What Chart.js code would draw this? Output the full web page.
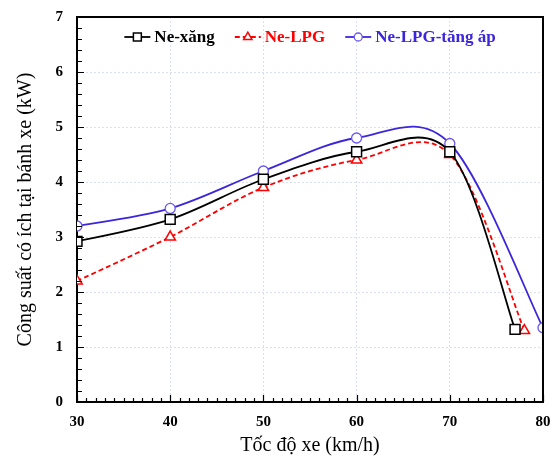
<!DOCTYPE html>
<html>
<head>
<meta charset="utf-8">
<script src="https://cdn.jsdelivr.net/npm/chart.js@4.4.1/dist/chart.umd.min.js"></script>
<style>
  html, body { margin: 0; padding: 0; background: #ffffff; }
  #wrap { width: 557px; height: 459px; }
</style>
</head>
<body>
<div id="wrap"><canvas id="c" width="557" height="459"></canvas></div>
<script>
// Vehicle speed (km/h) and useful wheel power (kW) for each fuel setup
const speedXang  = [30, 40, 50, 60, 70, 77];
const powerXang  = [2.92, 3.32, 4.05, 4.55, 4.55, 1.32];
const speedLPG   = [30, 40, 50, 60, 70, 78];
const powerLPG   = [2.2, 3.0, 3.9, 4.4, 4.5, 1.3];
const speedTurbo = [30, 40, 50, 60, 70, 80];
const powerTurbo = [3.2, 3.52, 4.2, 4.8, 4.7, 1.35];
const seriesNames = ['Ne-xăng', 'Ne-LPG', 'Ne-LPG-tăng áp'];
const xTicks = [30, 40, 50, 60, 70, 80];
const yTicks = [0, 1, 2, 3, 4, 5, 6, 7];

const SERIF = "'Liberation Serif', 'Times New Roman', serif";
const BLUE = '#3b25dd';

function pairs(xs, ys) { return xs.map((x, i) => ({ x: x, y: ys[i] })); }

// Spreadsheet-style smoothing: Catmull-Rom tangents (1/6 of the neighbour chord)
const smoothCurves = {
  id: 'smoothCurves',
  beforeDatasetsDraw(chart) {
    chart.data.datasets.forEach((ds, di) => {
      const meta = chart.getDatasetMeta(di);
      if (!meta.dataset) return;
      meta.dataset.updateControlPoints(chart.chartArea, 'x');
      const pts = meta.data;
      const n = pts.length;
      for (let i = 0; i < n; i++) {
        const p = pts[i];
        const prev = pts[Math.max(i - 1, 0)];
        const next = pts[Math.min(i + 1, n - 1)];
        const tx = (next.x - prev.x) / 6;
        const ty = (next.y - prev.y) / 6;
        p.cp1x = p.x - tx; p.cp1y = p.y - ty;
        p.cp2x = p.x + tx; p.cp2y = p.y + ty;
      }
    });
  }
};

// Legend drawn inside the plot frame: short line sample + marker + label
const innerLegend = {
  id: 'innerLegend',
  afterDraw(chart) {
    const ctx = chart.ctx;
    const area = chart.chartArea;
    const y = area.top + 20;
    const sampleW = 26, gapText = 4, gapItem = 20;
    ctx.save();
    ctx.font = 'bold 17px ' + SERIF;
    const items = chart.data.datasets.map(ds => ({ ds: ds, w: ctx.measureText(ds.label).width }));
    let total = 0;
    items.forEach((it, i) => { total += sampleW + gapText + it.w + (i ? gapItem : 0); });
    let x = (area.left + area.right) / 2 - total / 2;
    items.forEach(it => {
      const ds = it.ds;
      ctx.save();
      ctx.strokeStyle = ds.borderColor;
      ctx.lineWidth = ds.borderWidth;
      ctx.setLineDash(ds.borderDash || []);
      ctx.beginPath();
      ctx.moveTo(x, y);
      ctx.lineTo(x + sampleW, y);
      ctx.stroke();
      ctx.setLineDash([]);
      ctx.fillStyle = ds.pointBackgroundColor;
      ctx.strokeStyle = ds.pointBorderColor;
      ctx.lineWidth = ds.pointBorderWidth;
      Chart.helpers.drawPoint(ctx, { pointStyle: ds.pointStyle, radius: ds.pointRadius * 0.8, rotation: 0, borderWidth: ds.pointBorderWidth }, x + sampleW / 2, y);
      ctx.restore();
      ctx.fillStyle = ds.labelColor;
      ctx.textBaseline = 'middle';
      ctx.textAlign = 'left';
      ctx.fillText(ds.label, x + sampleW + gapText, y + 1);
      x += sampleW + gapText + it.w + gapItem;
    });
    ctx.restore();
  }
};

// Inward minor/major tick marks and the closing top/right frame lines
const frameTicks = {
  id: 'frameTicks',
  afterDatasetsDraw(chart) {
    const ctx = chart.ctx;
    const a = chart.chartArea;
    const xs = chart.scales.x, ys = chart.scales.y;
    ctx.save();
    ctx.strokeStyle = '#000';
    ctx.lineWidth = 1.2;
    ctx.beginPath();
    for (let v = xs.min; v <= xs.max + 1e-9; v += 1) {
      const px = Math.round(xs.getPixelForValue(v)) + 0.5;
      const major = Math.abs(v % 10) < 1e-6;
      ctx.moveTo(px, a.bottom);
      ctx.lineTo(px, a.bottom - (major ? 7 : 4));
    }
    for (let k = 0; k <= (ys.max - ys.min) * 5; k++) {
      const v = ys.min + k * 0.2;
      const py = Math.round(ys.getPixelForValue(v)) + 0.5;
      const major = k % 5 === 0;
      ctx.moveTo(a.left, py);
      ctx.lineTo(a.left + (major ? 7 : 5), py);
    }
    ctx.stroke();
    ctx.lineWidth = 2;
    ctx.beginPath();
    ctx.moveTo(a.left, a.top);
    ctx.lineTo(a.right, a.top);
    ctx.lineTo(a.right, a.bottom);
    ctx.stroke();
    ctx.restore();
  }
};

const gridColor = '#d9e0f2';

new Chart(document.getElementById('c'), {
  type: 'line',
  data: {
    datasets: [
      {
        label: seriesNames[0],
        data: pairs(speedXang, powerXang),
        borderColor: '#000000',
        borderWidth: 1.8,
        labelColor: '#000000',
        pointStyle: 'rect',
        pointRadius: 7,
        pointBackgroundColor: '#ffffff',
        pointBorderColor: '#000000',
        pointBorderWidth: 1.5
      },
      {
        label: seriesNames[1],
        data: pairs(speedLPG, powerLPG),
        borderColor: '#ff0000',
        borderWidth: 1.8,
        borderDash: [5, 3],
        labelColor: '#ff0000',
        pointStyle: 'triangle',
        pointRadius: 6,
        pointBackgroundColor: '#ffffff',
        pointBorderColor: '#ff0000',
        pointBorderWidth: 1.5
      },
      {
        label: seriesNames[2],
        data: pairs(speedTurbo, powerTurbo),
        borderColor: BLUE,
        borderWidth: 1.8,
        labelColor: BLUE,
        pointStyle: 'circle',
        pointRadius: 5,
        pointBackgroundColor: '#ffffff',
        pointBorderColor: '#6a58f0',
        pointBorderWidth: 1.3
      }
    ]
  },
  options: {
    responsive: false,
    animation: false,
    devicePixelRatio: 1,
    layout: { padding: { top: 17, right: 14, left: 0, bottom: 1 } },
    elements: { line: { tension: 0.3, cubicInterpolationMode: 'default', capBezierPoints: false } },
    plugins: { legend: { display: false }, tooltip: { enabled: false } },
    scales: {
      x: {
        type: 'linear',
        min: 30, max: 80,
        afterBuildTicks: (s) => { s.ticks = xTicks.map(v => ({ value: v })); },
        afterFit: (s) => { s.height = 56; s.paddingLeft = 0; s.paddingRight = 0; },
        ticks: { color: '#000', font: { family: SERIF, size: 15, weight: 'bold' }, padding: 11, maxRotation: 0 },
        grid: { color: gridColor, lineWidth: 1, drawTicks: false },
        border: { display: true, color: '#000', width: 2, dash: [2, 2] },
        title: { display: true, text: 'Tốc độ xe (km/h)', color: '#000', font: { family: SERIF, size: 20 }, padding: { top: 0, bottom: 0 } }
      },
      y: {
        min: 0, max: 7,
        afterBuildTicks: (s) => { s.ticks = yTicks.map(v => ({ value: v })); },
        afterFit: (s) => { s.width = 77; s.paddingTop = 0; s.paddingBottom = 0; },
        ticks: { color: '#000', font: { family: SERIF, size: 15, weight: 'bold' }, padding: 14 },
        grid: { color: gridColor, lineWidth: 1, drawTicks: false },
        border: { display: true, color: '#000', width: 2, dash: [2, 2] },
        title: { display: true, text: 'Công suất có ích tại bánh xe (kW)', color: '#000', font: { family: SERIF, size: 20 }, padding: { top: 14, bottom: 0 } }
      }
    }
  },
  plugins: [smoothCurves, frameTicks, innerLegend]
});
</script>
</body>
</html>
